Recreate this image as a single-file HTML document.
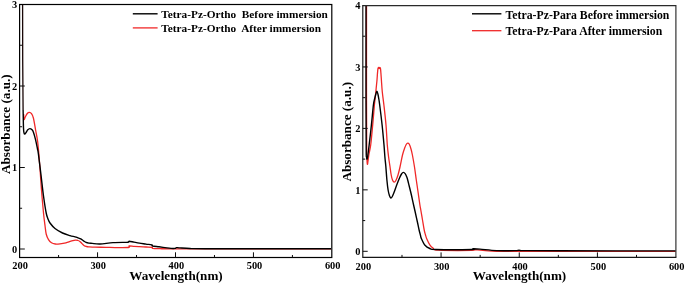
<!DOCTYPE html>
<html><head><meta charset="utf-8"><title>UV-Vis absorbance</title>
<style>html,body{margin:0;padding:0;background:#fff}body{width:685px;height:284px;overflow:hidden}</style></head>
<body>
<svg width="685" height="284" viewBox="0 0 685 284" style="display:block">
<rect width="685" height="284" fill="#fff"/>
<g font-family="'Liberation Serif', serif" font-weight="bold" fill="#000">
<path d="M23.60,114.00 C23.68,114.92 23.78,119.08 24.10,119.50 C24.42,119.92 24.93,117.53 25.50,116.50 C26.07,115.47 26.87,113.98 27.50,113.30 C28.13,112.62 28.63,112.35 29.30,112.40 C29.97,112.45 30.82,112.67 31.50,113.60 C32.18,114.53 32.72,115.27 33.40,118.00 C34.08,120.73 34.92,126.25 35.60,130.00 C36.28,133.75 36.97,136.58 37.50,140.50 C38.03,144.42 38.37,148.58 38.80,153.50 C39.23,158.42 39.65,163.92 40.10,170.00 C40.55,176.08 40.93,182.83 41.50,190.00 C42.07,197.17 42.92,207.08 43.50,213.00 C44.08,218.92 44.54,221.96 45.00,225.50 C45.46,229.04 45.67,231.90 46.25,234.25 C46.83,236.60 47.62,238.17 48.50,239.60 C49.38,241.03 50.37,242.07 51.50,242.80 C52.63,243.53 53.88,243.83 55.30,244.00 C56.72,244.17 58.23,244.00 60.00,243.80 C61.77,243.60 64.07,243.23 65.90,242.80 C67.73,242.37 69.40,241.65 71.00,241.20 C72.60,240.75 74.33,240.22 75.50,240.10 C76.67,239.98 77.27,240.27 78.00,240.50 C78.73,240.73 79.23,240.98 79.90,241.50 C80.57,242.02 81.27,242.88 82.00,243.60 C82.73,244.32 83.55,245.32 84.30,245.80 C85.05,246.28 85.77,246.33 86.50,246.50 C87.23,246.67 87.28,246.68 88.70,246.80 C90.12,246.92 92.12,247.12 95.00,247.20 C97.88,247.28 102.67,247.23 106.00,247.30 C109.33,247.37 111.27,247.57 115.00,247.60 C118.73,247.63 126.03,247.77 128.40,247.50 C130.77,247.23 128.27,246.18 129.20,246.00 C130.13,245.82 132.30,246.28 134.00,246.40 C135.70,246.52 137.40,246.60 139.40,246.70 C141.40,246.80 143.90,246.90 146.00,247.00 C148.10,247.10 150.87,247.07 152.00,247.30 C153.13,247.53 151.47,248.17 152.80,248.40 C154.13,248.63 156.97,248.62 160.00,248.70 C163.03,248.78 164.33,248.86 171.00,248.90 C177.67,248.94 173.33,248.95 200.00,248.95 C226.67,248.95 309.17,248.91 331.00,248.90" fill="none" stroke="#f02828" stroke-width="1.3" stroke-linejoin="round"/>
<path d="M22.6,4.6 L22.7,60.0 L23.1,110.0" fill="none" stroke="#1a0808" stroke-width="1.3"/>
<path d="M23.10,110.00 C23.17,113.00 23.35,124.20 23.50,128.00 C23.65,131.80 23.78,131.78 24.00,132.80 C24.22,133.82 24.47,134.13 24.80,134.10 C25.13,134.07 25.50,133.32 26.00,132.60 C26.50,131.88 27.17,130.47 27.80,129.80 C28.43,129.13 29.13,128.63 29.80,128.60 C30.47,128.57 31.18,128.97 31.80,129.60 C32.42,130.23 32.87,130.70 33.50,132.40 C34.13,134.10 34.93,137.03 35.60,139.80 C36.27,142.57 37.03,146.63 37.50,149.00 C37.97,151.37 37.82,149.67 38.40,154.00 C38.98,158.33 40.15,168.00 41.00,175.00 C41.85,182.00 42.63,189.67 43.50,196.00 C44.37,202.33 45.45,209.17 46.20,213.00 C46.95,216.83 47.37,217.33 48.00,219.00 C48.63,220.67 48.83,221.42 50.00,223.00 C51.17,224.58 52.92,226.83 55.00,228.50 C57.08,230.17 60.00,231.82 62.50,233.00 C65.00,234.18 67.92,234.97 70.00,235.60 C72.08,236.23 73.67,236.43 75.00,236.80 C76.33,237.17 77.03,237.45 78.00,237.80 C78.97,238.15 79.88,238.40 80.80,238.90 C81.72,239.40 82.62,240.22 83.50,240.80 C84.38,241.38 85.18,242.02 86.10,242.40 C87.02,242.78 87.98,242.93 89.00,243.10 C90.02,243.27 90.37,243.25 92.20,243.40 C94.03,243.55 96.53,244.13 100.00,244.00 C103.47,243.87 108.62,242.88 113.00,242.60 C117.38,242.32 123.70,242.43 126.30,242.35 C128.90,242.27 128.12,242.29 128.60,242.10 C129.08,241.91 128.30,241.20 129.20,241.20 C130.10,241.20 132.30,241.78 134.00,242.10 C135.70,242.42 137.40,242.77 139.40,243.10 C141.40,243.43 143.92,243.78 146.00,244.10 C148.08,244.42 150.80,244.68 151.90,245.00 C153.00,245.32 151.42,245.70 152.60,246.00 C153.78,246.30 156.93,246.53 159.00,246.80 C161.07,247.07 163.00,247.33 165.00,247.60 C167.00,247.87 169.33,248.27 171.00,248.40 C172.67,248.53 174.08,248.53 175.00,248.40 C175.92,248.27 175.67,247.68 176.50,247.60 C177.33,247.52 177.75,247.75 180.00,247.90 C182.25,248.05 185.83,248.37 190.00,248.50 C194.17,248.63 181.50,248.67 205.00,248.70 C228.50,248.73 310.00,248.70 331.00,248.70" fill="none" stroke="#000" stroke-width="1.4" stroke-linejoin="round"/>
<path d="M366.50,5.50 C366.50,21.25 366.47,75.92 366.50,100.00 C366.53,124.08 366.62,140.00 366.70,150.00 C366.78,160.00 366.88,157.60 367.00,160.00 C367.12,162.40 367.23,164.23 367.40,164.40 C367.57,164.57 367.73,162.73 368.00,161.00 C368.27,159.27 368.55,156.67 369.00,154.00 C369.45,151.33 370.08,149.83 370.70,145.00 C371.32,140.17 372.08,131.67 372.70,125.00 C373.32,118.33 373.98,109.50 374.40,105.00 C374.82,100.50 374.90,100.83 375.20,98.00 C375.50,95.17 375.90,91.00 376.20,88.00 C376.50,85.00 376.78,82.50 377.00,80.00 C377.22,77.50 377.33,74.93 377.50,73.00 C377.67,71.07 377.82,69.33 378.00,68.40 C378.18,67.47 378.40,67.37 378.60,67.40 C378.80,67.43 378.98,68.58 379.20,68.60 C379.42,68.62 379.68,67.50 379.90,67.50 C380.12,67.50 380.33,67.68 380.50,68.60 C380.67,69.52 380.75,71.10 380.90,73.00 C381.05,74.90 381.17,76.83 381.40,80.00 C381.63,83.17 381.88,87.83 382.30,92.00 C382.72,96.17 383.28,99.50 383.90,105.00 C384.52,110.50 385.43,118.33 386.00,125.00 C386.57,131.67 386.87,139.67 387.30,145.00 C387.73,150.33 388.17,153.50 388.60,157.00 C389.03,160.50 389.47,163.00 389.90,166.00 C390.33,169.00 390.75,172.62 391.20,175.00 C391.65,177.38 392.10,179.10 392.60,180.30 C393.10,181.50 393.65,182.17 394.20,182.20 C394.75,182.23 395.27,181.70 395.90,180.50 C396.53,179.30 397.32,177.25 398.00,175.00 C398.68,172.75 399.25,170.33 400.00,167.00 C400.75,163.67 401.75,158.08 402.50,155.00 C403.25,151.92 403.88,150.25 404.50,148.50 C405.12,146.75 405.67,145.38 406.20,144.50 C406.73,143.62 407.18,143.23 407.70,143.20 C408.22,143.17 408.75,143.33 409.30,144.30 C409.85,145.27 410.48,147.22 411.00,149.00 C411.52,150.78 411.82,152.00 412.40,155.00 C412.98,158.00 413.85,162.83 414.50,167.00 C415.15,171.17 415.68,175.67 416.30,180.00 C416.92,184.33 417.60,188.83 418.20,193.00 C418.80,197.17 419.47,202.17 419.90,205.00 C420.33,207.83 420.37,207.50 420.80,210.00 C421.23,212.50 421.93,216.67 422.50,220.00 C423.07,223.33 423.70,227.50 424.20,230.00 C424.70,232.50 425.10,233.60 425.50,235.00 C425.90,236.40 425.88,236.77 426.60,238.40 C427.32,240.03 428.73,243.20 429.80,244.80 C430.87,246.40 431.60,247.12 433.00,248.00 C434.40,248.88 431.70,249.70 438.20,250.10 C444.70,250.50 466.20,250.47 472.00,250.40 C477.80,250.33 471.67,249.75 473.00,249.70 C474.33,249.65 476.08,249.83 480.00,250.10 C483.92,250.37 483.17,251.08 496.50,251.30 C509.83,251.52 530.15,251.38 560.00,251.40 C589.85,251.42 656.33,251.40 675.60,251.40" fill="none" stroke="#f02828" stroke-width="1.3" stroke-linejoin="round"/>
<path d="M366.00,5.50 C366.00,21.25 365.97,75.92 366.00,100.00 C366.03,124.08 366.12,140.50 366.20,150.00 C366.28,159.50 366.37,155.40 366.50,157.00 C366.63,158.60 366.82,159.60 367.00,159.60 C367.18,159.60 367.24,159.43 367.60,157.00 C367.96,154.57 368.52,150.33 369.15,145.00 C369.78,139.67 370.69,131.67 371.40,125.00 C372.11,118.33 372.87,109.33 373.40,105.00 C373.93,100.67 374.20,100.78 374.60,99.00 C375.00,97.22 375.42,95.58 375.80,94.30 C376.18,93.02 376.55,91.35 376.90,91.30 C377.25,91.25 377.55,92.55 377.90,94.00 C378.25,95.45 378.70,98.17 379.00,100.00 C379.30,101.83 379.18,100.83 379.70,105.00 C380.22,109.17 381.38,118.33 382.10,125.00 C382.82,131.67 383.53,139.67 384.00,145.00 C384.47,150.33 384.60,153.50 384.90,157.00 C385.20,160.50 385.47,162.17 385.80,166.00 C386.13,169.83 386.52,176.00 386.90,180.00 C387.28,184.00 387.67,187.37 388.10,190.00 C388.53,192.63 389.05,194.47 389.50,195.80 C389.95,197.13 390.33,197.88 390.80,198.00 C391.27,198.12 391.77,197.42 392.30,196.50 C392.83,195.58 393.27,194.42 394.00,192.50 C394.73,190.58 395.78,187.42 396.70,185.00 C397.62,182.58 398.70,179.83 399.50,178.00 C400.30,176.17 400.85,174.93 401.50,174.00 C402.15,173.07 402.77,172.43 403.40,172.40 C404.03,172.37 404.77,173.10 405.30,173.80 C405.83,174.50 406.20,175.57 406.60,176.60 C407.00,177.63 407.27,178.43 407.70,180.00 C408.13,181.57 408.58,183.50 409.20,186.00 C409.82,188.50 410.67,191.83 411.40,195.00 C412.13,198.17 412.97,202.17 413.60,205.00 C414.23,207.83 414.57,209.17 415.20,212.00 C415.83,214.83 416.75,219.00 417.40,222.00 C418.05,225.00 418.60,227.83 419.10,230.00 C419.60,232.17 420.03,233.60 420.40,235.00 C420.77,236.40 420.53,236.68 421.30,238.40 C422.07,240.12 423.58,243.62 425.00,245.30 C426.42,246.98 427.95,247.80 429.80,248.50 C431.65,249.20 429.07,249.33 436.10,249.50 C443.13,249.67 465.85,249.62 472.00,249.50 C478.15,249.38 471.67,248.87 473.00,248.80 C474.33,248.73 476.08,248.80 480.00,249.10 C483.92,249.40 490.67,250.35 496.50,250.60 C502.33,250.85 511.25,250.67 515.00,250.60 C518.75,250.53 517.33,250.20 519.00,250.20 C520.67,250.20 518.17,250.50 525.00,250.60 C531.83,250.70 534.90,250.75 560.00,250.80 C585.10,250.85 656.33,250.88 675.60,250.90" fill="none" stroke="#000" stroke-width="1.4" stroke-linejoin="round"/>
<rect x="19.6" y="4.5" width="312.20" height="253.00" fill="none" stroke="#000" stroke-width="1.2"/>
<path d="M362.8,5.6 H675.9 V257.3" fill="none" stroke="#2a2a2a" stroke-width="1.15"/>
<path d="M362.8,5.1 V257.3 H676.4" fill="none" stroke="#151515" stroke-width="1.15"/>
<g stroke="#0c0c0c" stroke-width="1">
<line x1="97.55" y1="257.5" x2="97.55" y2="252.3"/><line x1="175.50" y1="257.5" x2="175.50" y2="252.3"/><line x1="253.45" y1="257.5" x2="253.45" y2="252.3"/><line x1="58.57" y1="257.5" x2="58.57" y2="255.0"/><line x1="136.52" y1="257.5" x2="136.52" y2="255.0"/><line x1="214.47" y1="257.5" x2="214.47" y2="255.0"/><line x1="292.43" y1="257.5" x2="292.43" y2="255.0"/><line x1="19.6" y1="249.00" x2="24.8" y2="249.00"/><line x1="19.6" y1="167.50" x2="24.8" y2="167.50"/><line x1="19.6" y1="86.00" x2="24.8" y2="86.00"/><line x1="19.6" y1="208.25" x2="22.1" y2="208.25"/><line x1="19.6" y1="126.75" x2="22.1" y2="126.75"/><line x1="19.6" y1="45.25" x2="22.1" y2="45.25"/>
<line x1="441.07" y1="257.3" x2="441.07" y2="252.4"/><line x1="519.25" y1="257.3" x2="519.25" y2="252.4"/><line x1="597.42" y1="257.3" x2="597.42" y2="252.4"/><line x1="401.99" y1="257.3" x2="401.99" y2="254.9"/><line x1="480.16" y1="257.3" x2="480.16" y2="254.9"/><line x1="558.34" y1="257.3" x2="558.34" y2="254.9"/><line x1="636.51" y1="257.3" x2="636.51" y2="254.9"/><line x1="362.8" y1="251.30" x2="367.7" y2="251.30"/><line x1="362.8" y1="189.85" x2="367.7" y2="189.85"/><line x1="362.8" y1="128.40" x2="367.7" y2="128.40"/><line x1="362.8" y1="66.95" x2="367.7" y2="66.95"/><line x1="362.8" y1="220.58" x2="365.2" y2="220.58"/><line x1="362.8" y1="159.12" x2="365.2" y2="159.12"/><line x1="362.8" y1="97.68" x2="365.2" y2="97.68"/><line x1="362.8" y1="36.22" x2="365.2" y2="36.22"/>
</g>
<g font-size="10.4" text-anchor="middle">
<text x="20.1" y="269.2">200</text>
<text x="363.3" y="269.6">200</text>
<text x="98.2" y="269.2">300</text>
<text x="441.7" y="269.6">300</text>
<text x="176.4" y="269.2">400</text>
<text x="520.0" y="269.6">400</text>
<text x="254.5" y="269.2">500</text>
<text x="598.3" y="269.6">500</text>
<text x="332.7" y="269.2">600</text>
<text x="676.7" y="269.6">600</text>
</g>
<g font-size="10.4" text-anchor="end">
<text x="17.1" y="252.7">0</text>
<text x="17.1" y="171.2">1</text>
<text x="17.1" y="89.7">2</text>
<text x="17.1" y="8.2">3</text>
<text x="360.4" y="254.9">0</text>
<text x="360.4" y="193.5">1</text>
<text x="360.4" y="132.0">2</text>
<text x="360.4" y="70.5">3</text>
<text x="360.4" y="9.1">4</text>
</g>
<g font-size="13">
<text transform="translate(129.3,280.4) scale(1.012,1)">Wavelength(nm)</text>
<text transform="translate(472.8,279.6) scale(1.012,1)">Wavelength(nm)</text>
<text transform="translate(9.7,174.0) rotate(-90) scale(1.012,1.03)">Absorbance (a.u.)</text>
<text transform="translate(351.1,181.6) rotate(-90) scale(1.012,1.0)">Absorbance (a.u.)</text>
</g>
<g font-size="11.3">
<text x="161.3" y="18.1">Tetra-Pz-Ortho&#160; Before immersion</text>
<text x="161.3" y="32.1">Tetra-Pz-Ortho&#160; After immersion</text>
<text x="505.6" y="18.7" font-size="11.75">Tetra-Pz-Para Before immersion</text>
<text x="505.6" y="34.8" font-size="11.75">Tetra-Pz-Para After immersion</text>
</g>
<line x1="132.8" y1="13.8" x2="157.6" y2="13.8" stroke="#000" stroke-width="1.4"/>
<line x1="132.8" y1="27.9" x2="157.6" y2="27.9" stroke="#f02828" stroke-width="1.3"/>
<line x1="472" y1="13.8" x2="501.4" y2="13.8" stroke="#000" stroke-width="1.4"/>
<line x1="472" y1="30.7" x2="501.4" y2="30.7" stroke="#f02828" stroke-width="1.3"/>
</g></svg>
</body></html>
